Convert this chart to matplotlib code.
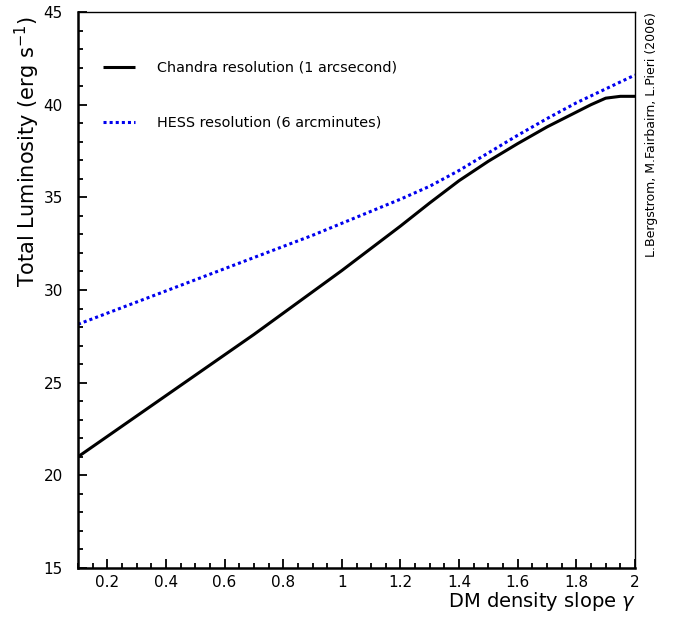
import matplotlib
matplotlib.use("Agg")
import matplotlib.pyplot as plt
from matplotlib.ticker import MultipleLocator, FuncFormatter

plt.rcParams['font.family'] = ['DejaVu Sans']

gamma_chandra = [0.1, 0.2, 0.3, 0.4, 0.5, 0.6, 0.7, 0.8, 0.9, 1.0, 1.1, 1.2, 1.3,
                 1.4, 1.5, 1.6, 1.7, 1.8, 1.85, 1.9, 1.95, 2.0]
lum_chandra = [21.0, 22.1, 23.2, 24.3, 25.4, 26.5, 27.6, 28.75, 29.9, 31.05, 32.25,
               33.45, 34.7, 35.9, 36.95, 37.9, 38.8, 39.6, 40.0, 40.35, 40.45, 40.45]

gamma_hess = [0.1, 0.2, 0.3, 0.4, 0.5, 0.6, 0.7, 0.8, 0.9, 1.0, 1.1, 1.2, 1.3,
              1.4, 1.5, 1.6, 1.7, 1.8, 1.9, 2.0]
lum_hess = [28.15, 28.75, 29.35, 29.95, 30.55, 31.15, 31.75, 32.35, 32.95, 33.6,
            34.25, 34.9, 35.6, 36.45, 37.4, 38.35, 39.25, 40.1, 40.85, 41.6]

labels = ["Chandra resolution (1 arcsecond)", "HESS resolution (6 arcminutes)"]

fig = plt.figure(figsize=(6.83, 6.18), dpi=100)
ax = fig.add_axes([78 / 683, 1 - 568 / 618, (635 - 78) / 683, (568 - 12) / 618])

ax.plot(gamma_chandra, lum_chandra, color='black', lw=2.2, solid_capstyle='butt')
ax.plot(gamma_hess, lum_hess, color='#0000ee', lw=2.2, linestyle=(0, (1, 1)))

ax.set_xlim(0.1, 2.0)
ax.set_ylim(15, 45)
ax.xaxis.set_major_locator(MultipleLocator(0.2))
ax.xaxis.set_minor_locator(MultipleLocator(0.05))
ax.yaxis.set_major_locator(MultipleLocator(5))
ax.yaxis.set_minor_locator(MultipleLocator(1))
ax.xaxis.set_major_formatter(FuncFormatter(lambda v, p: f"{v:g}"))
ax.tick_params(which='both', direction='in', top=False, right=False, labelsize=11, width=1.3)
ax.tick_params(which='major', length=6.5)
ax.tick_params(which='minor', length=3.3)
ax.tick_params(axis='x', which='major', pad=5)
ax.tick_params(axis='y', which='major', pad=11)

for s in ['left', 'bottom']:
    ax.spines[s].set_linewidth(1.8)
for s in ['top', 'right']:
    ax.spines[s].set_linewidth(1.0)

# legend (manual, ROOT style)
ax.plot([0.045, 0.103], [0.901, 0.901], transform=ax.transAxes, color='black', lw=2.2,
        solid_capstyle='butt')
ax.plot([0.045, 0.103], [0.802, 0.802], transform=ax.transAxes, color='#0000ee', lw=2.2,
        linestyle=(0, (1, 1)))
ax.text(0.142, 0.901, labels[0], transform=ax.transAxes, va='center', ha='left', fontsize=10.4)
ax.text(0.142, 0.802, labels[1], transform=ax.transAxes, va='center', ha='left', fontsize=10.4)

fig.text(27 / 683, 1 - 152 / 618, r"Total Luminosity (erg s$^{-1}$)", rotation=90,
         ha='center', va='center', fontsize=15)
fig.text(636 / 683, 1 - 607 / 618, r"DM density slope $\gamma$", ha='right', va='baseline',
         fontsize=14)
fig.text(652 / 683, 1 - 12 / 618, "L.Bergstrom, M.Fairbairn, L.Pieri (2006)", rotation=90,
         ha='center', va='top', fontsize=9)

fig.savefig("out.png", dpi=100)
